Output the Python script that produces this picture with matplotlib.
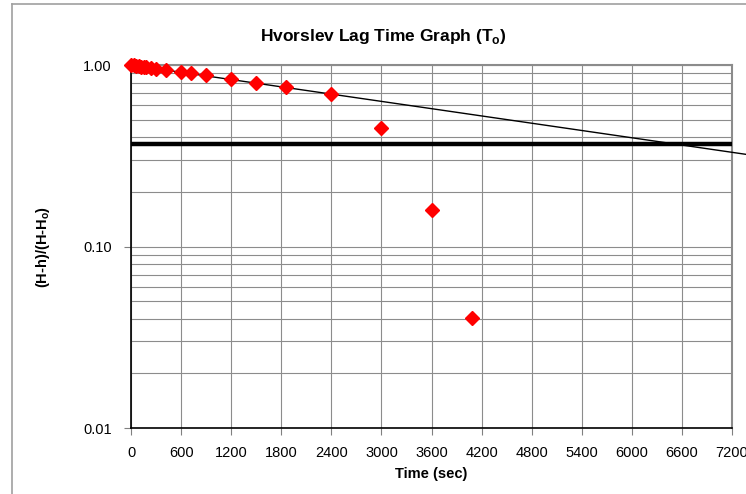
import numpy as np
import matplotlib
matplotlib.use("Agg")
import matplotlib.pyplot as plt
from matplotlib.lines import Line2D

plt.rcParams['font.family'] = ['Liberation Sans', 'DejaVu Sans']

# datos
time_s = [0, 30, 60, 90, 120, 150, 180, 240, 300, 420, 600, 720, 900,
          1200, 1500, 1860, 2400, 3000, 3600, 4080]
ratio = [1.0, 0.995, 0.99, 0.985, 0.98, 0.976, 0.972, 0.964, 0.955, 0.94,
         0.918, 0.905, 0.881, 0.837, 0.799, 0.754, 0.689, 0.448, 0.159, 0.0405]
T0 = 6500          # tiempo de retardo (s) segun la recta de ajuste
level_37 = 0.368   # 1/e
x_ticks = list(range(0, 7201, 600))
y_ticks = [0.01, 0.10, 1.00]
y_labels = ["0.01", "0.10", "1.00"]

W, H = 746, 494
fig = plt.figure(figsize=(W / 100, H / 100), dpi=100)
ax = fig.add_axes([131 / W, 1 - 428 / H, (732 - 131) / W, (428 - 65) / H])

ax.set_yscale("log")
ax.set_xlim(0, 7200)
ax.set_ylim(0.01, 1.0)

# rejilla
ax.set_xticks(x_ticks)
ax.set_xticklabels([str(t) for t in x_ticks])
ax.set_yticks(y_ticks)
ax.set_yticklabels(y_labels)
ax.yaxis.set_minor_locator(matplotlib.ticker.LogLocator(base=10, subs=np.arange(2, 10)))
ax.yaxis.set_minor_formatter(matplotlib.ticker.NullFormatter())
ax.grid(True, which="major", axis="both", color="#8c8c8c", lw=0.8)
ax.grid(True, which="minor", axis="y", color="#8c8c8c", lw=0.8)
ax.tick_params(which="minor", length=0)
ax.tick_params(which="major", length=5, width=0.8, color="#808080", labelsize=10.5)
ax.tick_params(axis="x", pad=8)
ax.tick_params(axis="y", pad=9)
ax.set_axisbelow(True)

for s in ["top", "right"]:
    ax.spines[s].set_color("#8c8c8c")
    ax.spines[s].set_linewidth(1.5)
for s in ["left", "bottom"]:
    ax.spines[s].set_color("black")
    ax.spines[s].set_linewidth(1.2)

# linea 0.37
ax.axhline(level_37, color="black", lw=3.2, zorder=3)

# recta de ajuste (sale del area del grafico)
t_fit = np.array([0, 7400])
ax.plot(t_fit, np.exp(-t_fit / T0), color="black", lw=1.0, zorder=4, clip_on=False)

# datos
ax.plot(time_s, ratio, "D", color="red", ms=7, mec="red", zorder=5, clip_on=False)

ax.set_title(r"Hvorslev Lag Time Graph (T$_\mathregular{o}$)", fontsize=12.5,
             fontweight="bold", x=(383 - 131) / (732 - 131), pad=17)
ax.set_xlabel("Time (sec)", fontsize=10.5, fontweight="bold", labelpad=5)
ax.set_ylabel(r"(H-h)/(H-H$_\mathregular{o}$)", fontsize=10.5, fontweight="bold",
              labelpad=22)

# borde del area del grafico
fig.add_artist(Line2D([12 / W, 12 / W], [0, 1 - 4 / H], color="#a0a0a0", lw=1.2))
fig.add_artist(Line2D([12 / W, 1], [1 - 4 / H, 1 - 4 / H], color="#a0a0a0", lw=1.2))

fig.savefig("out.png", dpi=100)
